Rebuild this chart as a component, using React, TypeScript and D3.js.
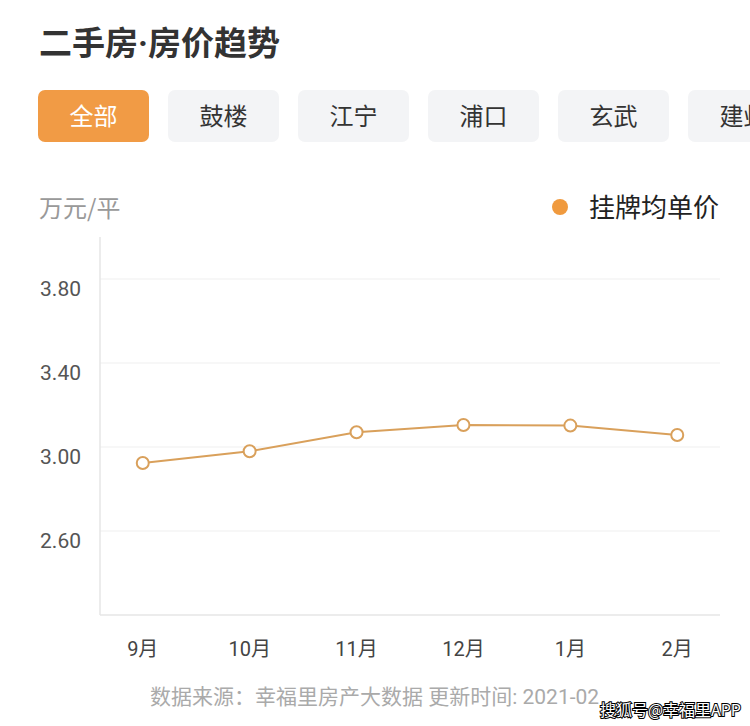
import React from "react";
import * as d3 from "d3";

const months = ["9月", "10月", "11月", "12月", "1月", "2月"];
const prices = [2.924, 2.98, 3.07, 3.105, 3.102, 3.057];
const yTicks = [2.6, 3.0, 3.4, 3.8];
const tabs = ["全部", "鼓楼", "江宁", "浦口", "玄武", "建邺"];
const seriesName = "挂牌均单价";
const unitLabel = "万元/平";
const titleA = "二手房";
const titleB = "房价趋势";
const footer = "数据来源：幸福里房产大数据 更新时间: 2021-02";
const watermark = "搜狐号@幸福里APP";

const W = 750;
const H = 726;
const FONT = "'Noto Sans CJK SC', 'Noto Sans', Roboto, sans-serif";
const NUMFONT = "Roboto, 'Noto Sans CJK SC', sans-serif";

export default function App() {
  const x = d3.scalePoint<string>().domain(months).range([100, 720]).padding(0.4);
  const y = d3.scaleLinear().domain([2.2, 4.0]).range([615, 237]);
  const line = d3
    .line<number>()
    .x((_, i) => x(months[i]) as number)
    .y((d) => y(d));

  return (
    <svg
      width={W}
      height={H}
      style={{ position: "absolute", left: 0, top: 0, background: "#fff" }}
      fontFamily={FONT}
    >
      <rect width={W} height={H} fill="#fff" />
      <text x={39} y={55} fontSize={33} fontWeight={700} fill="#333">
        {titleA}
        <tspan fontFamily="Roboto, sans-serif">·</tspan>
        {titleB}
      </text>
      {tabs.map((t, i) => {
        const bx = 38 + i * 130;
        const active = i === 0;
        return (
          <g key={t}>
            <rect
              x={bx}
              y={90}
              width={111}
              height={52}
              rx={7}
              fill={active ? "#F19B45" : "#F3F4F6"}
            />
            <text
              x={bx + 55.5}
              y={125}
              textAnchor="middle"
              fontSize={24}
              fill={active ? "#fff" : "#333"}
            >
              {t}
            </text>
          </g>
        );
      })}
      <text x={39} y={217} fontSize={24} fill="#999">
        {unitLabel}
      </text>
      <circle cx={560} cy={207} r={8} fill="#F09A3E" />
      <text x={589} y={217} fontSize={26} fill="#222">
        {seriesName}
      </text>

      {yTicks.map((t) => (
        <g key={t}>
          <line x1={100} x2={720} y1={y(t)} y2={y(t)} stroke="#EFEFEF" strokeWidth={1} />
          <text
            x={81}
            y={y(t) + 17}
            textAnchor="end"
            fontSize={21}
            fontFamily={NUMFONT}
            fill="#555"
          >
            {t.toFixed(2)}
          </text>
        </g>
      ))}
      <line x1={100} x2={100} y1={237} y2={615} stroke="#E6E6E6" strokeWidth={1.5} />
      <line x1={100} x2={720} y1={615} y2={615} stroke="#E6E6E6" strokeWidth={1.5} />
      {months.map((m) => (
        <text
          key={m}
          x={x(m) as number}
          y={656}
          textAnchor="middle"
          fontSize={20}
          fontFamily={NUMFONT}
          fill="#444"
        >
          {m}
        </text>
      ))}
      <path d={line(prices) || ""} fill="none" stroke="#D9A05B" strokeWidth={2} />
      {prices.map((p, i) => (
        <circle
          key={i}
          cx={x(months[i]) as number}
          cy={y(p)}
          r={6}
          fill="#fff"
          stroke="#D9A05B"
          strokeWidth={2}
        />
      ))}
      <text x={150} y={704} fontSize={21} fontFamily={NUMFONT} fill="#AAA">
        {footer}
      </text>
      <text
        x={741}
        y={716}
        textAnchor="end"
        fontSize={16}
        fontWeight={400}
        fill="#fff"
        stroke="#000"
        strokeWidth={2}
        paintOrder="stroke"
      >
        {watermark}
      </text>
    </svg>
  );
}
